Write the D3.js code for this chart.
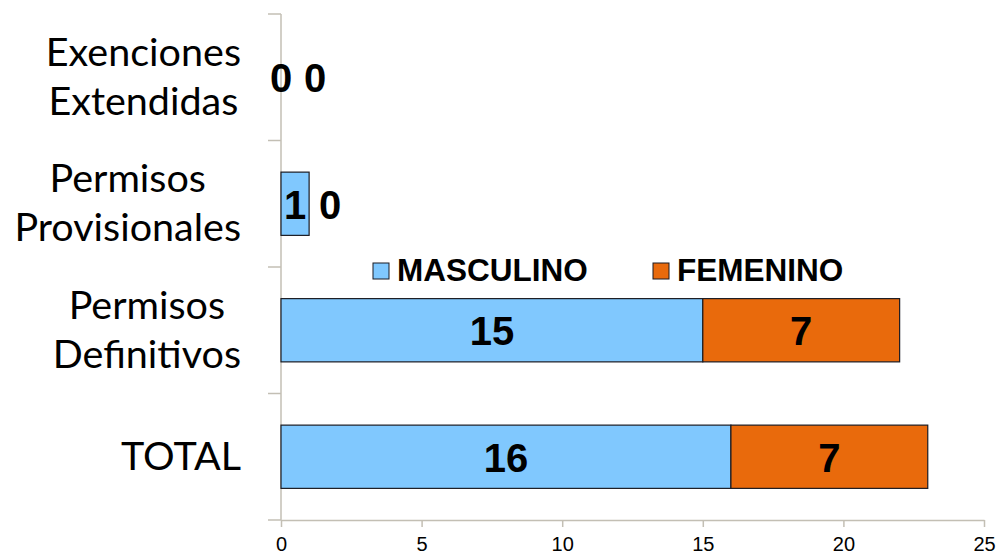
<!DOCTYPE html>
<html>
<head>
<meta charset="utf-8">
<script src="https://cdn.jsdelivr.net/npm/d3@7"></script>
<style>
  body { margin: 0; background: #fff; }
  svg { display: block; }
</style>
</head>
<body>
<div class="vis-div"></div>
<script>
// categories top to bottom
const categories = [
    ['Exenciones', 'Extendidas'],
    ['Permisos', 'Provisionales'],
    ['Permisos', 'Definitivos'],
    ['TOTAL']
]
const masculino = [0, 1, 15, 16]
const femenino = [0, 0, 7, 7]
const seriesNames = ['MASCULINO', 'FEMENINO']
const xTicks = [0, 5, 10, 15, 20, 25]

const width = 998
const height = 554
const margin = ({top: 14, right: 14, bottom: 34, left: 281})
const colors = ['#80c8fe', '#e96a0c']
const axisColor = '#c3bfb4'

const svg = d3.select('.vis-div').append('svg')
    .attr('width', width)
    .attr('height', height)
    .attr('viewBox', [0, 0, width, height])

const x = d3.scaleLinear()
    .domain([0, 25])
    .range([margin.left, width - margin.right])

const y = d3.scaleBand()
    .domain(d3.range(categories.length))
    .range([margin.top, height - margin.bottom])
    .paddingInner(0.5)
    .paddingOuter(0.25)

const step = y.step()
const y0 = y.range()[0]
const y1 = y.range()[1]

// y axis line + tick marks between categories
const gy = svg.append('g').attr('stroke', axisColor).attr('stroke-width', 1.5)
gy.append('line')
    .attr('x1', x(0)).attr('x2', x(0))
    .attr('y1', y0).attr('y2', y1)
gy.selectAll('.yt')
    .data(d3.range(categories.length + 1))
    .join('line')
    .attr('x1', x(0) - 13).attr('x2', x(0))
    .attr('y1', i => y0 + i * step).attr('y2', i => y0 + i * step)

// x axis
const xAxis = g => g
    .attr('transform', `translate(0,${y1})`)
    .call(d3.axisBottom(x).tickValues(xTicks).tickSize(7).tickSizeOuter(0))
    .call(g => g.select('.domain').attr('stroke', axisColor).attr('stroke-width', 1.5))
    .call(g => g.selectAll('.tick line').attr('stroke', axisColor).attr('stroke-width', 1.5))
    .call(g => g.selectAll('.tick text')
        .attr('fill', '#000')
        .attr('dy', null)
        .attr('y', 31)
        .attr('font-family', '"Liberation Sans", Arial, sans-serif')
        .attr('font-size', 20))
svg.append('g').call(xAxis)

// category labels, lines centred to each other, block right-aligned
const labelRight = 241
const lineH = 49
categories.forEach((lines, i) => {
    const g = svg.append('g')
        .attr('font-family', 'Lato, "Open Sans", sans-serif')
        .attr('font-size', 39.5)
        .attr('fill', '#000')
    const texts = g.selectAll('text').data(lines).join('text').text(d => d)
    const maxW = d3.max(texts.nodes(), n => n.getComputedTextLength())
    const cy = y(i) + y.bandwidth() / 2
    const firstBase = cy + 13 - (lines.length - 1) * lineH / 2
    texts
        .attr('text-anchor', 'middle')
        .attr('x', labelRight - maxW / 2)
        .attr('y', (d, k) => firstBase + k * lineH)
})

// stacked bars
const stacks = categories.map((c, i) => {
    const m = masculino[i], f = femenino[i]
    return [
        {i, s: 0, start: 0, end: m, value: m},
        {i, s: 1, start: m, end: m + f, value: f}
    ]
}).flat()

svg.append('g').selectAll('rect')
    .data(stacks.filter(d => d.value > 0))
    .join('rect')
    .attr('x', d => x(d.start))
    .attr('y', d => y(d.i))
    .attr('width', d => x(d.end) - x(d.start))
    .attr('height', y.bandwidth())
    .attr('fill', d => colors[d.s])
    .attr('stroke', '#1b1b22')
    .attr('stroke-width', 1.2)

// value labels; zero-width segments get pushed right of their neighbour
const labelX = []
stacks.forEach(d => {
    let cx = x((d.start + d.end) / 2)
    if (d.value === 0 && d.s === 1) {
        cx = Math.max(x(d.end) + 21, labelX[d.i] + 34)
    }
    if (d.s === 0) labelX[d.i] = cx
    d.lx = cx
})

svg.append('g').selectAll('text')
    .data(stacks)
    .join('text')
    .attr('x', d => d.lx)
    .attr('y', d => y(d.i) + y.bandwidth() / 2 + 15)
    .attr('text-anchor', 'middle')
    .attr('font-family', '"Liberation Sans", Arial, sans-serif')
    .attr('font-weight', 'bold')
    .attr('font-size', 40)
    .attr('fill', '#000')
    .text(d => d.value)

// legend
const legendX = [373, 653]
const legend = svg.append('g')
seriesNames.forEach((name, k) => {
    legend.append('rect')
        .attr('x', legendX[k]).attr('y', 263)
        .attr('width', 16).attr('height', 16)
        .attr('fill', colors[k])
        .attr('stroke', '#1b1b22')
        .attr('stroke-width', 1)
    legend.append('text')
        .attr('x', legendX[k] + 24).attr('y', 281)
        .attr('font-family', '"Liberation Sans", Arial, sans-serif')
        .attr('font-weight', 'bold')
        .attr('font-size', 31.5)
        .attr('fill', '#000')
        .text(name)
})
</script>
</body>
</html>
